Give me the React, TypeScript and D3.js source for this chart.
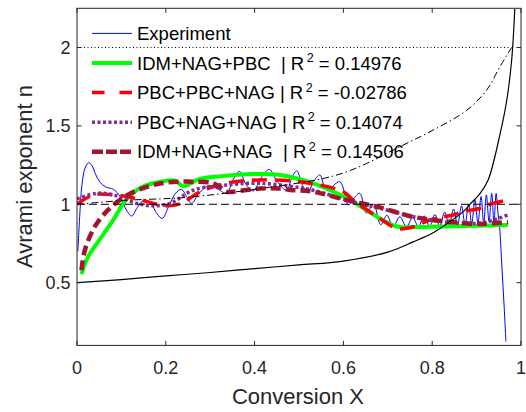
import React from "react";
import * as d3 from "d3";

type P = [number, number];

const experiment: P[] = [
  [0.002, 0.70], [0.006, 0.92], [0.011, 1.12], [0.018, 1.23], [0.026, 1.265], [0.034, 1.245],
  [0.042, 1.19], [0.052, 1.14], [0.065, 1.11], [0.082, 1.095], [0.097, 1.05], [0.11, 0.97],
  [0.123, 0.925], [0.136, 0.98], [0.15, 1.025], [0.166, 1.005], [0.18, 0.94], [0.192, 0.91],
  [0.207, 0.99], [0.222, 1.07], [0.235, 1.095], [0.247, 1.05], [0.258, 1.006], [0.275, 1.07],
  [0.297, 1.12], [0.318, 1.095], [0.337, 1.07], [0.352, 1.16], [0.366, 1.21], [0.38, 1.13],
  [0.397, 1.085], [0.415, 1.17], [0.433, 1.222], [0.452, 1.14], [0.472, 1.09], [0.484, 1.17],
  [0.495, 1.214], [0.508, 1.12], [0.52, 1.08], [0.534, 1.15], [0.547, 1.187], [0.562, 1.09],
  [0.592, 1.144], [0.611, 0.996], [0.624, 1.04], [0.637, 1.07], [0.652, 0.943], [0.668, 1.0],
  [0.684, 0.87], [0.698, 0.93], [0.712, 0.857], [0.727, 0.92], [0.742, 0.857], [0.756, 0.915],
  [0.769, 0.86], [0.782, 0.925], [0.794, 0.86], [0.806, 0.935], [0.817, 0.862], [0.828, 0.95],
  [0.838, 0.865], [0.848, 0.97], [0.857, 0.868], [0.866, 0.99], [0.874, 0.87], [0.882, 1.0],
  [0.889, 0.875], [0.896, 1.03], [0.903, 0.88], [0.91, 1.05], [0.916, 0.88], [0.922, 1.06],
  [0.928, 0.89], [0.934, 1.07], [0.939, 0.885], [0.944, 1.07], [0.948, 0.95], [0.952, 0.85],
  [0.957, 0.6], [0.962, 0.35], [0.966, 0.124],
];

const idmNagPbc: P[] = [
  [0.01, 0.555], [0.025, 0.666], [0.055, 0.79], [0.086, 0.92], [0.108, 1.02], [0.146, 1.11],
  [0.19, 1.145], [0.22, 1.152], [0.24, 1.115], [0.275, 1.16], [0.32, 1.178], [0.397, 1.193],
  [0.457, 1.187], [0.532, 1.134], [0.607, 1.04], [0.645, 0.975], [0.682, 0.91], [0.72, 0.858],
  [0.75, 0.855], [0.85, 0.86], [0.97, 0.868],
];

const pbcPbcNag: P[] = [
  [0, 1.0], [0.037, 1.06], [0.082, 1.06], [0.112, 1.05], [0.157, 1.017], [0.202, 0.99],
  [0.235, 1.006], [0.277, 1.08], [0.337, 1.134], [0.412, 1.155], [0.502, 1.144], [0.6, 1.08],
  [0.622, 1.027], [0.682, 0.91], [0.72, 0.847], [0.75, 0.85], [0.795, 0.9], [0.847, 0.932],
  [0.87, 0.953], [0.908, 0.975], [0.93, 1.0], [0.975, 1.03],
];

const pbcNagNag: P[] = [
  [0, 1.035], [0.044, 1.07], [0.082, 1.06], [0.134, 1.006], [0.172, 0.99], [0.21, 1.006],
  [0.262, 1.09], [0.337, 1.123], [0.412, 1.134], [0.487, 1.112], [0.532, 1.09], [0.607, 1.027],
  [0.682, 0.975], [0.795, 0.9], [0.908, 0.88], [0.97, 0.932],
];

const idmNagNag: P[] = [
  [0.01, 0.58], [0.018, 0.71], [0.04, 0.857], [0.07, 0.964], [0.108, 1.05], [0.146, 1.1],
  [0.19, 1.134], [0.228, 1.144], [0.262, 1.144], [0.307, 1.134], [0.337, 1.08], [0.35, 1.08],
  [0.412, 1.1], [0.457, 1.1], [0.487, 1.09], [0.532, 1.08], [0.607, 1.027], [0.682, 0.98],
  [0.757, 0.92], [0.833, 0.89], [0.908, 0.875], [0.971, 0.885],
];

const theorySolid: P[] = [
  [0, 0.5], [0.1, 0.52], [0.2, 0.543], [0.3, 0.565], [0.4, 0.59], [0.5, 0.613], [0.6, 0.638],
  [0.7, 0.695], [0.757, 0.76], [0.8, 0.815], [0.833, 0.875], [0.87, 0.953], [0.885, 1.0],
  [0.908, 1.07], [0.926, 1.155], [0.953, 1.45], [0.968, 1.665], [0.979, 1.92], [0.986, 2.245],
];

const theoryDashDot: P[] = [
  [0, 1.0], [0.108, 1.025], [0.25, 1.045], [0.45, 1.115], [0.547, 1.16], [0.6, 1.2],
  [0.652, 1.26], [0.727, 1.367], [0.8, 1.47], [0.878, 1.6], [0.923, 1.73], [0.953, 1.88],
  [0.979, 2.0],
];

const lineOne: P[] = [[0, 1], [1, 1]];
const lineTwo: P[] = [[0, 2], [0.978, 2]];

const xTicks = [0, 0.2, 0.4, 0.6, 0.8, 1];
const yTicks = [0.5, 1, 1.5, 2];

const legendLabels = ["Experiment", "IDM+NAG+PBC  | R", "PBC+PBC+NAG | R", "PBC+NAG+NAG | R", "IDM+NAG+NAG  | R"];
const legendR2 = ["", "0.14976", "-0.02786", "0.14074", "0.14506"];

const FONT = "'Liberation Sans', Arial, Helvetica, sans-serif";

export default function App() {
  const L = 77, R = 521, T = 8.3, B = 345.4;
  const x = d3.scaleLinear().domain([0, 1]).range([L, R]);
  const y = d3.scaleLinear().domain([0.1, 2.25]).range([B, T]);
  const smooth = d3.line<P>().x(d => x(d[0])).y(d => y(d[1])).curve(d3.curveCatmullRom.alpha(0.5));
  const straight = d3.line<P>().x(d => x(d[0])).y(d => y(d[1]));
  const axisColor = "#262626";

  const styles = [
    { stroke: "#0000FF", width: 1, dash: "", ldash: "" },
    { stroke: "#00FF00", width: 4, dash: "", ldash: "" },
    { stroke: "#FF0000", width: 3.5, dash: "15 8", ldash: "12.5 15" },
    { stroke: "#7E2F8E", width: 3.5, dash: "3 2.5", ldash: "3 2.5" },
    { stroke: "#A2142F", width: 4.5, dash: "10 5", ldash: "11 3" },
  ];
  const series = [experiment, idmNagPbc, pbcPbcNag, pbcNagNag, idmNagNag];

  return (
    <svg width={526} height={412} style={{ position: "absolute", left: 0, top: 0, background: "#fff" }}>
      <defs>
        <clipPath id="plot">
          <rect x={L} y={T} width={R - L} height={B - T} />
        </clipPath>
      </defs>
      <rect width={526} height={412} fill="#fff" />
      <g clipPath="url(#plot)" fill="none">
        {series.map((s, i) => (
          <path key={i} d={smooth(s) || ""} stroke={styles[i].stroke} strokeWidth={styles[i].width}
            strokeDasharray={styles[i].dash || undefined} />
        ))}
        <path d={straight(lineOne) || ""} stroke="#000" strokeWidth={1} strokeDasharray="8 4" />
        <path d={straight(lineTwo) || ""} stroke="#000" strokeWidth={1} strokeDasharray="1 2.5" />
        <path d={smooth(theoryDashDot) || ""} stroke="#000" strokeWidth={1} strokeDasharray="7 3 1.5 3" />
        <path d={smooth(theorySolid) || ""} stroke="#000" strokeWidth={1.2} />
      </g>
      <rect x={L} y={T} width={R - L} height={B - T} fill="none" stroke={axisColor} strokeWidth={1} />
      {xTicks.map(t => (
        <g key={"x" + t}>
          <line x1={x(t)} x2={x(t)} y1={B} y2={B - 4.5} stroke={axisColor} />
          <line x1={x(t)} x2={x(t)} y1={T} y2={T + 4.5} stroke={axisColor} />
          <text x={x(t)} y={373.5} textAnchor="middle" fontFamily={FONT} fontSize={18} fill={axisColor}>{d3.format("")(t)}</text>
        </g>
      ))}
      {yTicks.map(t => (
        <g key={"y" + t}>
          <line x1={L} x2={L + 4.5} y1={y(t)} y2={y(t)} stroke={axisColor} />
          <line x1={R} x2={R - 4.5} y1={y(t)} y2={y(t)} stroke={axisColor} />
          <text x={70.5} y={y(t) + 6.4} textAnchor="end" fontFamily={FONT} fontSize={18} fill={axisColor}>{d3.format("")(t)}</text>
        </g>
      ))}
      <text x={298} y={404} textAnchor="middle" fontFamily={FONT} fontSize={22} fill={axisColor}>Conversion X</text>
      <text transform="translate(32,176.5) rotate(-90)" textAnchor="middle" fontFamily={FONT} fontSize={22} fill={axisColor}>Avrami exponent n</text>
      {legendLabels.map((lab, i) => {
        const by = 40 + i * 29.6;
        const ly = by - 6.6;
        return (
          <g key={"lg" + i}>
            <line x1={92} x2={132} y1={ly} y2={ly} stroke={styles[i].stroke} strokeWidth={styles[i].width}
              strokeDasharray={styles[i].ldash || undefined} />
            <text x={137} y={by} fontFamily={FONT} fontSize={18.5} fill="#000" xmlSpace="preserve" style={{ whiteSpace: "pre" }}>
              {lab}
              {legendR2[i] && (
                <>
                  <tspan fontSize={12.5} dx={2.5} dy={-7.5}>2</tspan>
                  <tspan dy={7.5}>{" = " + legendR2[i]}</tspan>
                </>
              )}
            </text>
          </g>
        );
      })}
    </svg>
  );
}
